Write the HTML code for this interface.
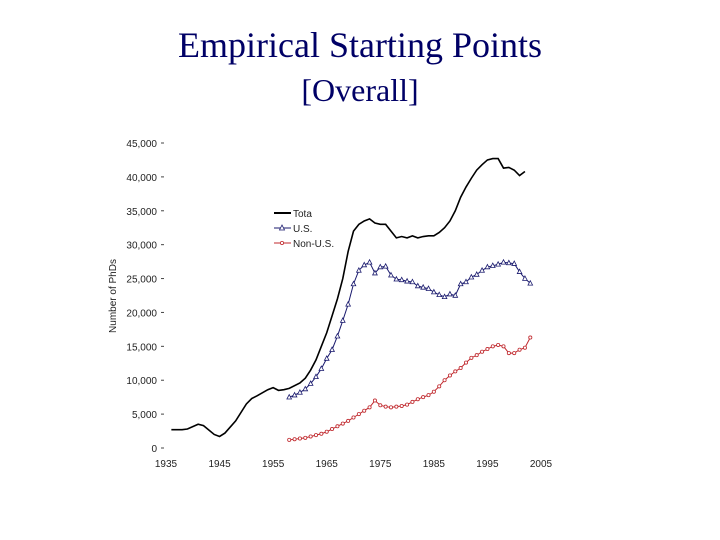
<!DOCTYPE html>
<html><head><meta charset="utf-8"><style>
body{margin:0;background:#fff;width:720px;height:540px;overflow:hidden}
.t{position:absolute;left:0;width:720px;text-align:center;font-family:"Liberation Serif",serif;color:#000066}
</style></head><body>
<div class="t" style="top:24px;font-size:36px">Empirical Starting Points</div>
<div class="t" style="top:72px;font-size:32px">[Overall]</div>
<svg id="c" width="720" height="540" style="position:absolute;left:0;top:0"></svg>
<script>
const totalYears=[1936,1938,1939,1941,1942,1944,1945,1946,1948,1950,1951,1952,1954,1955,1956,1957,1958,1960,1961,1962,1963,1964,1965,1966,1967,1968,1969,1970,1971,1972,1973,1974,1975,1976,1977,1978,1979,1980,1981,1982,1983,1984,1985,1986,1987,1988,1989,1990,1991,1992,1993,1994,1995,1996,1997,1998,1999,2000,2001,2002];
const totalValues=[2700,2700,2800,3500,3300,2000,1700,2200,4000,6500,7300,7700,8600,8900,8500,8600,8800,9600,10300,11500,13000,15000,17000,19500,22000,25000,29000,32000,33000,33500,33800,33200,33000,33000,32000,31000,31200,31000,31300,31000,31200,31300,31300,31800,32500,33500,35000,37000,38500,39800,41000,41800,42500,42700,42700,41300,41400,41000,40200,40800];
const usValues=[7500,7800,8200,8700,9500,10500,11700,13200,14500,16500,18800,21200,24200,26200,27000,27400,25800,26700,26800,25500,24900,24800,24600,24500,23900,23700,23500,23000,22600,22300,22700,22500,24200,24500,25200,25600,26200,26700,26900,27100,27400,27300,27200,26000,25000,24300];
const nonUsValues=[1200,1300,1400,1500,1700,1900,2100,2400,2800,3200,3600,4000,4500,5000,5500,6000,7000,6300,6100,6000,6100,6200,6400,6800,7200,7500,7800,8300,9100,10000,10700,11300,11800,12600,13300,13700,14200,14600,15000,15200,15000,14000,14000,14500,14800,16300];
const subStartYear=1958;
const yTicks=[0,5000,10000,15000,20000,25000,30000,35000,40000,45000];
const xTicks=[1935,1945,1955,1965,1975,1985,1995,2005];
const svg=document.getElementById('c'),NS='http://www.w3.org/2000/svg';
const x=v=>166+(v-1935)*(541-166)/70, y=v=>448-v*(448-143)/45000;
function mk(t,a,p){const e=document.createElementNS(NS,t);for(const k in a)e.setAttribute(k,a[k]);(p||svg).appendChild(e);return e;}
const F='font-family:"Liberation Sans",sans-serif;font-size:10px;fill:#222';
yTicks.forEach(v=>{const l=mk('text',{x:157,y:y(v)+4,'text-anchor':'end',style:F});l.textContent=v.toLocaleString('en-US');

mk('line',{x1:161,x2:164,y1:y(v),y2:y(v),stroke:'#444','stroke-width':1});});
xTicks.forEach(v=>{const l=mk('text',{x:x(v),y:467,'text-anchor':'middle',style:F});l.textContent=v;
});
const yt=mk('text',{transform:'translate(116,296) rotate(-90)','text-anchor':'middle',style:F});yt.textContent='Number of PhDs';

function line(xs,vs,col,w,name){const p=mk('polyline',{points:xs.map((d,i)=>x(d)+','+y(vs[i])).join(' '),fill:'none',stroke:col,'stroke-width':w});
}
line(totalYears,totalValues,'#000',1.6,'total-line');
const subYears=usValues.map((_,i)=>subStartYear+i);
line(subYears,usValues,'#1a1a6e',1,'us-line');
subYears.forEach((d,i)=>{const cx=x(d),cy=y(usValues[i]);const m=mk('polygon',{points:`${cx},${cy-2.6} ${cx-2.3},${cy+1.8} ${cx+2.3},${cy+1.8}`,fill:'#fff',stroke:'#1a1a6e','stroke-width':0.8});
});
line(subYears,nonUsValues,'#c0282d',1,'non-us-line');
subYears.forEach((d,i)=>{const m=mk('circle',{cx:x(d),cy:y(nonUsValues[i]),r:1.6,fill:'#fff',stroke:'#c0282d','stroke-width':0.8});
});
const lg=mk('g',{});
mk('line',{x1:274,x2:291,y1:213,y2:213,stroke:'#000','stroke-width':2},lg);
mk('line',{x1:274,x2:291,y1:228,y2:228,stroke:'#1a1a6e','stroke-width':1},lg);
mk('polygon',{points:'282,225 279.5,230 284.5,230',fill:'#fff',stroke:'#1a1a6e','stroke-width':0.8},lg);
mk('line',{x1:274,x2:291,y1:243,y2:243,stroke:'#c0282d','stroke-width':1},lg);
mk('circle',{cx:282,cy:243,r:1.6,fill:'#fff',stroke:'#c0282d','stroke-width':0.8},lg);
[['Tota',217],['U.S.',232],['Non-U.S.',247]].forEach(([t,yy])=>{const e=mk('text',{x:293,y:yy,style:F},lg);e.textContent=t;});
</script>
</body></html>
